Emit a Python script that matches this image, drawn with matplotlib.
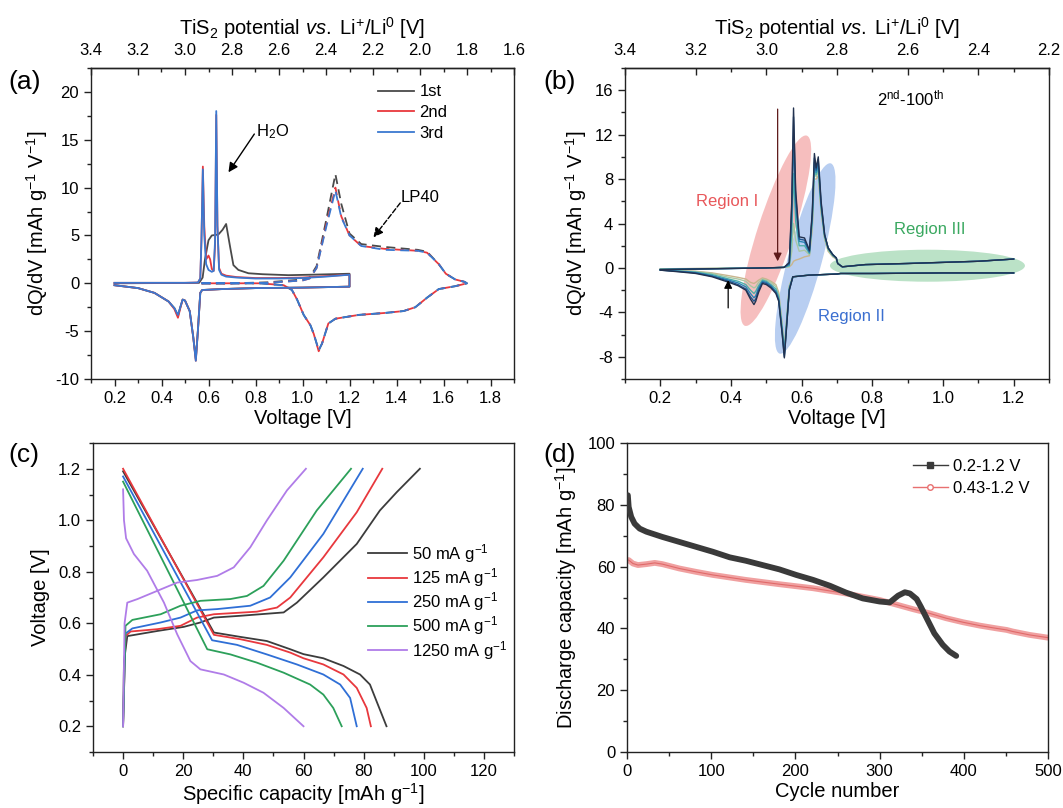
import numpy as np
import matplotlib
matplotlib.use("Agg")
import matplotlib.pyplot as plt
from matplotlib.ticker import MultipleLocator, FormatStrFormatter, FixedLocator
from matplotlib.patches import Ellipse
from matplotlib.transforms import ScaledTranslation
from matplotlib.lines import Line2D

plt.rcParams['font.family'] = ['Liberation Sans', 'DejaVu Sans']
plt.rcParams['mathtext.fontset'] = 'custom'
plt.rcParams['mathtext.rm'] = 'Liberation Sans'
plt.rcParams['mathtext.it'] = 'Liberation Sans:italic'
plt.rcParams['mathtext.bf'] = 'Liberation Sans:bold'
plt.rcParams['axes.linewidth'] = 1.0
plt.rcParams['axes.unicode_minus'] = False

# ---------------- (a) CV, 0.2-1.2 V window (solid) ----------------
va_c1 = [0.20, 0.35, 0.50, 0.56, 0.575, 0.585, 0.600, 0.614, 0.642, 0.660, 0.675, 0.692, 0.706, 0.727, 0.77, 0.83, 0.94, 1.04, 1.12, 1.20,
         1.20, 1.00, 0.80, 0.66, 0.573, 0.565, 0.555, 0.546, 0.535, 0.520, 0.500, 0.490, 0.480, 0.470, 0.455, 0.430, 0.370, 0.300, 0.200]
ia_c1 = [0.00, 0.02, 0.03, 0.05, 0.6, 2.5, 4.5, 5.0, 5.1, 5.6, 6.2, 3.8, 1.9, 1.4, 1.05, 0.95, 0.85, 0.90, 0.95, 1.00,
         -0.35, -0.45, -0.50, -0.60, -0.70, -1.0, -4.9, -7.9, -5.6, -2.9, -1.8, -1.7, -2.5, -3.4, -2.6, -1.9, -1.0, -0.5, -0.2]
va_c23 = [0.20, 0.35, 0.50, 0.555, 0.565, 0.570, 0.576, 0.582, 0.590, 0.600, 0.607, 0.614, 0.622, 0.628, 0.633, 0.638, 0.645, 0.655, 0.675, 0.72, 0.80, 0.90, 1.00, 1.10, 1.20,
          1.20, 1.00, 0.80, 0.66, 0.573, 0.565, 0.555, 0.546, 0.535, 0.520, 0.500, 0.490, 0.480, 0.470, 0.455, 0.430, 0.370, 0.300, 0.200]
ia_c2 = [0.05, 0.05, 0.05, 0.08, 0.5, 4.5, 12.2, 6.0, 2.5, 2.9, 2.5, 1.5, 1.3, 4.0, 17.6, 6.0, 1.6, 1.0, 0.8, 0.65, 0.55, 0.55, 0.60, 0.75, 0.90,
         -0.35, -0.45, -0.50, -0.60, -0.70, -1.0, -4.9, -8.1, -5.6, -2.9, -1.8, -1.7, -2.6, -3.6, -2.7, -1.9, -1.0, -0.5, -0.2]
ia_c3 = [0.05, 0.05, 0.05, 0.08, 0.5, 4.5, 11.9, 5.0, 2.0, 1.4, 1.3, 1.2, 1.3, 4.5, 18.0, 6.0, 1.4, 0.9, 0.7, 0.6, 0.5, 0.5, 0.55, 0.70, 0.90,
         -0.35, -0.45, -0.50, -0.60, -0.70, -1.0, -4.9, -8.1, -5.6, -2.9, -1.8, -1.7, -2.5, -3.3, -2.6, -1.9, -1.0, -0.5, -0.2]

# ---------------- (a) LP40 reference (dashed) ----------------
va_lp = [0.57, 0.70, 0.85, 1.00, 1.03, 1.06, 1.10, 1.14, 1.165, 1.20, 1.25, 1.35, 1.49, 1.53, 1.58, 1.61, 1.65, 1.69, 1.70,
         1.65, 1.58, 1.53, 1.48, 1.43, 1.35, 1.24, 1.14, 1.11, 1.083, 1.069, 1.048, 1.034, 1.005, 0.977, 0.955, 0.92, 0.82, 0.70, 0.57]
ia_lp1 = [0.00, 0.00, 0.10, 0.40, 0.60, 1.8, 6.5, 11.4, 8.3, 5.2, 4.1, 3.8, 3.5, 3.3, 2.0, 1.0, 0.4, 0.15, 0.0,
          -0.3, -0.6, -1.5, -2.5, -2.9, -3.1, -3.3, -3.7, -4.2, -6.3, -7.0, -5.3, -4.4, -3.3, -1.7, -0.7, -0.2, 0.0, 0.0, 0.0]
ia_lp2 = [0.00, 0.00, 0.05, 0.30, 0.50, 1.6, 6.0, 10.0, 7.0, 5.0, 3.9, 3.6, 3.4, 3.2, 2.0, 1.0, 0.4, 0.15, 0.0,
          -0.3, -0.6, -1.5, -2.5, -2.9, -3.1, -3.3, -3.7, -4.2, -6.3, -7.1, -5.3, -4.4, -3.3, -1.7, -0.7, -0.2, 0.0, 0.0, 0.0]
ia_lp3 = [0.00, 0.00, 0.05, 0.30, 0.50, 1.6, 5.8, 9.7, 6.9, 5.0, 3.9, 3.5, 3.4, 3.2, 2.0, 1.0, 0.4, 0.15, 0.0,
          -0.3, -0.6, -1.5, -2.5, -2.9, -3.1, -3.3, -3.7, -4.2, -6.3, -7.0, -5.3, -4.4, -3.3, -1.7, -0.7, -0.2, 0.0, 0.0, 0.0]
cycle_labels_a = ['1st', '2nd', '3rd']

# ---------------- (b) dQ/dV, cycles 2-100 ----------------
vb_up = [0.20, 0.30, 0.40, 0.50, 0.55, 0.565, 0.572, 0.577, 0.583, 0.593, 0.608, 0.622, 0.630, 0.636, 0.641, 0.647, 0.655, 0.665, 0.675, 0.688, 0.698, 0.702, 0.715, 0.78, 0.90, 1.00, 1.10, 1.20]
ib_up_002 = [-0.15, -0.10, -0.05, 0.00, 0.05, 0.5, 6.0, 14.4, 7.0, 2.8, 2.7, 1.6, 5.0, 10.3, 9.0, 10.0, 6.0, 3.0, 1.8, 1.2, 0.9, 0.4, 0.1, 0.3, 0.4, 0.5, 0.6, 0.8]
ib_up_010 = [-0.15, -0.10, -0.05, 0.00, 0.05, 0.4, 5.5, 13.6, 6.5, 2.6, 2.5, 1.5, 4.8, 9.9, 8.8, 9.7, 5.8, 3.0, 1.8, 1.2, 0.9, 0.4, 0.1, 0.3, 0.4, 0.5, 0.6, 0.8]
ib_up_025 = [-0.15, -0.10, -0.05, 0.00, 0.05, 0.3, 4.5, 11.8, 5.5, 2.4, 2.3, 1.4, 4.5, 9.5, 8.6, 9.3, 5.6, 2.9, 1.8, 1.2, 0.9, 0.4, 0.1, 0.3, 0.4, 0.5, 0.6, 0.8]
ib_up_050 = [-0.12, -0.08, -0.04, 0.00, 0.05, 0.2, 3.0, 8.5, 4.2, 2.0, 2.0, 1.3, 4.2, 9.0, 8.4, 9.0, 5.4, 2.8, 1.7, 1.1, 0.9, 0.4, 0.1, 0.3, 0.4, 0.5, 0.6, 0.8]
ib_up_075 = [-0.10, -0.06, -0.03, 0.00, 0.05, 0.15, 1.5, 4.0, 2.5, 1.5, 1.6, 1.2, 3.8, 8.6, 8.2, 8.7, 5.2, 2.7, 1.6, 1.1, 0.8, 0.4, 0.1, 0.3, 0.4, 0.5, 0.6, 0.8]
ib_up_100 = [-0.08, -0.05, -0.02, 0.00, 0.05, 0.10, 0.3, 0.6, 0.7, 0.8, 1.0, 1.1, 3.5, 8.0, 8.0, 8.3, 5.0, 2.6, 1.5, 1.0, 0.8, 0.4, 0.1, 0.3, 0.4, 0.5, 0.6, 0.8]
vb_dn = [1.20, 1.00, 0.80, 0.71, 0.70, 0.62, 0.575, 0.565, 0.558, 0.551, 0.545, 0.535, 0.527, 0.513, 0.500, 0.489, 0.478, 0.470, 0.465, 0.455, 0.442, 0.420, 0.394, 0.347, 0.300, 0.252, 0.200]
ib_dn_002 = [-0.45, -0.45, -0.50, -0.50, -0.55, -0.65, -0.8, -2.0, -5.0, -8.1, -6.0, -3.0, -2.3, -1.8, -1.5, -1.4, -2.2, -3.0, -3.3, -2.8, -2.0, -1.6, -1.3, -0.8, -0.5, -0.35, -0.20]
ib_dn_010 = [-0.45, -0.45, -0.50, -0.50, -0.55, -0.65, -0.8, -2.0, -5.0, -8.0, -5.9, -2.9, -2.2, -1.7, -1.4, -1.3, -2.0, -2.8, -3.0, -2.6, -1.9, -1.5, -1.2, -0.75, -0.45, -0.32, -0.20]
ib_dn_025 = [-0.45, -0.45, -0.50, -0.50, -0.55, -0.65, -0.8, -1.9, -4.8, -7.8, -5.7, -2.8, -2.1, -1.6, -1.3, -1.2, -1.8, -2.5, -2.7, -2.3, -1.7, -1.35, -1.1, -0.7, -0.42, -0.30, -0.18]
ib_dn_050 = [-0.45, -0.45, -0.50, -0.50, -0.55, -0.65, -0.8, -1.8, -4.6, -7.6, -5.5, -2.6, -1.9, -1.5, -1.2, -1.1, -1.6, -2.1, -2.3, -2.0, -1.5, -1.2, -1.0, -0.6, -0.38, -0.28, -0.17]
ib_dn_075 = [-0.45, -0.45, -0.50, -0.50, -0.55, -0.65, -0.8, -1.7, -4.5, -7.4, -5.3, -2.4, -1.7, -1.3, -1.1, -1.0, -1.3, -1.7, -1.8, -1.6, -1.2, -1.0, -0.85, -0.5, -0.33, -0.25, -0.15]
ib_dn_100 = [-0.45, -0.45, -0.50, -0.50, -0.55, -0.65, -0.8, -1.6, -4.4, -7.3, -5.1, -2.2, -1.5, -1.2, -1.0, -0.9, -1.1, -1.3, -1.4, -1.3, -1.0, -0.85, -0.70, -0.45, -0.30, -0.22, -0.14]

# ---------------- (c) galvanostatic profiles ----------------
rate_labels = ['50 mA g$^{-1}$', '125 mA g$^{-1}$', '250 mA g$^{-1}$', '500 mA g$^{-1}$', '1250 mA g$^{-1}$']
cap_dis_50 = [0, 30.2, 39.0, 47.8, 55.6, 60.0, 66.6, 73.3, 78.8, 82.1, 84.3, 87.6]
v_dis_50 = [1.19, 0.564, 0.547, 0.531, 0.499, 0.480, 0.464, 0.434, 0.401, 0.362, 0.297, 0.200]
cap_chg_50 = [0, 0.3, 1.4, 11.4, 20.2, 25.7, 30.2, 39.0, 53.4, 57.8, 66.6, 77.7, 85.4, 91.0, 98.7]
v_chg_50 = [0.20, 0.45, 0.55, 0.570, 0.586, 0.603, 0.622, 0.629, 0.642, 0.680, 0.778, 0.908, 1.038, 1.109, 1.20]
cap_dis_125 = [0, 30.2, 39.0, 47.8, 55.6, 60.0, 66.6, 73.3, 77.7, 81.0, 82.4]
v_dis_125 = [1.20, 0.555, 0.538, 0.516, 0.486, 0.464, 0.440, 0.401, 0.349, 0.271, 0.200]
cap_chg_125 = [0, 0.8, 2.5, 11.4, 19.1, 24.6, 30.2, 44.5, 51.2, 55.6, 66.6, 77.7, 86.2]
v_chg_125 = [0.20, 0.55, 0.568, 0.577, 0.590, 0.622, 0.635, 0.645, 0.661, 0.700, 0.856, 1.031, 1.20]
cap_dis_250 = [0, 29.6, 37.9, 47.8, 57.8, 66.6, 72.2, 75.5, 77.7]
v_dis_250 = [1.17, 0.534, 0.516, 0.479, 0.440, 0.401, 0.362, 0.310, 0.200]
cap_chg_250 = [0, 0.8, 3.1, 12.5, 19.1, 24.6, 31.3, 42.3, 48.9, 55.6, 66.6, 79.7]
v_chg_250 = [0.20, 0.56, 0.580, 0.603, 0.622, 0.650, 0.655, 0.668, 0.700, 0.778, 0.947, 1.20]
cap_dis_500 = [0, 28.0, 35.7, 44.5, 53.4, 62.2, 66.6, 69.9, 72.7]
v_dis_500 = [1.15, 0.499, 0.479, 0.447, 0.408, 0.362, 0.323, 0.271, 0.200]
cap_chg_500 = [0, 0.8, 3.1, 12.5, 19.1, 25.7, 35.7, 41.2, 46.7, 53.4, 64.4, 75.8]
v_chg_500 = [0.20, 0.59, 0.613, 0.635, 0.668, 0.687, 0.694, 0.706, 0.745, 0.843, 1.038, 1.20]
cap_dis_1250 = [0, 0.3, 1.0, 3.6, 8.0, 13.6, 18.0, 22.4, 25.7, 33.5, 40.1, 46.7, 53.4, 60.0]
v_dis_1250 = [1.12, 1.00, 0.93, 0.869, 0.804, 0.680, 0.557, 0.453, 0.421, 0.401, 0.369, 0.330, 0.271, 0.200]
cap_chg_1250 = [0, 0.5, 1.4, 4.8, 11.4, 18.0, 24.6, 31.3, 36.8, 42.3, 47.8, 54.5, 60.8]
v_chg_1250 = [0.20, 0.60, 0.680, 0.694, 0.726, 0.758, 0.768, 0.784, 0.817, 0.895, 0.999, 1.116, 1.20]

# ---------------- (d) cycling ----------------
cyc_wide = [1, 2, 5, 9, 15, 23, 42, 62, 82, 102, 122, 141, 161, 181, 201, 221, 241, 260, 280, 300, 312, 322, 330, 336, 344, 349, 357, 365, 375, 383, 391]
cap_wide = [83.1, 79.3, 76.1, 73.9, 72.3, 71.3, 69.6, 68.0, 66.4, 64.8, 63.0, 61.9, 60.5, 59.1, 57.3, 55.7, 53.8, 51.6, 49.7, 48.7, 48.4, 50.6, 51.7, 51.3, 49.5, 47.0, 42.7, 38.4, 34.7, 32.5, 31.1]
cyc_narrow = [2, 7, 13, 23, 33, 42, 62, 82, 102, 141, 181, 221, 260, 300, 340, 359, 379, 399, 419, 439, 451, 458, 478, 500]
cap_narrow = [62.1, 61.0, 60.5, 60.8, 61.2, 60.8, 59.4, 58.3, 57.3, 55.7, 54.3, 53.0, 51.3, 49.2, 46.2, 44.9, 43.3, 42.0, 40.9, 40.0, 39.5, 39.0, 37.9, 37.0]
window_labels = ['0.2-1.2 V', '0.43-1.2 V']

# top-axis tick values (TiS2 potential)
top_ticks_a = [3.4, 3.2, 3.0, 2.8, 2.6, 2.4, 2.2, 2.0, 1.8, 1.6]
top_ticks_b = [3.4, 3.2, 3.0, 2.8, 2.6, 2.4, 2.2]

# =====================================================================
W, H = 1063, 808
fig = plt.figure(figsize=(W / 100, H / 100), dpi=100)


def axpx(l, t, r, b):
    return fig.add_axes([l / W, 1 - b / H, (r - l) / W, (b - t) / H])


TICK = 12
LAB = 14.5
SPC = '#222222'


def style(ax):
    for s in ax.spines.values():
        s.set_color(SPC)
    ax.tick_params(which='both', direction='out', top=False, right=False,
                   labelsize=TICK, color=SPC, width=1.0)
    ax.tick_params(which='major', length=5)
    ax.tick_params(which='minor', length=3)


def tis2(v):
    return 3.5 - v


def top_axis(ax, ticks):
    sec = ax.secondary_xaxis('top', functions=(tis2, tis2))
    sec.xaxis.set_major_locator(FixedLocator(ticks))
    minors = [round(t - 0.1, 1) for t in ticks[1:]]
    sec.xaxis.set_minor_locator(FixedLocator(minors))
    sec.xaxis.set_major_formatter(FormatStrFormatter('%.1f'))
    sec.tick_params(which='both', direction='in', labelsize=TICK, color=SPC, width=1.0, pad=7)
    sec.tick_params(which='major', length=5)
    sec.tick_params(which='minor', length=3)
    sec.spines['top'].set_color(SPC)
    sec.set_xlabel('TiS$_2$ potential $\\it{vs.}$ Li$^{+}$/Li$^{0}$ [V]', fontsize=LAB, labelpad=6)
    return sec


ax_a = axpx(91, 68, 514, 379)
ax_b = axpx(625, 68, 1049, 379)
ax_c = axpx(93, 443, 514, 752)
ax_d = axpx(627, 443, 1048, 752)

# ---------------- panel (a) ----------------
col_a = ['#4a4a4a', '#e8383d', '#3a78d0']
style(ax_a)
ax_a.set_xlim(0.1, 1.9)
ax_a.set_ylim(-10, 22.5)
for i_lp, c in zip([ia_lp1, ia_lp2, ia_lp3], col_a):
    ax_a.plot(va_lp, i_lp, color=c, lw=1.3, dashes=(5, 3), zorder=2)
for i_s, va, c, lab in zip([ia_c1, ia_c2, ia_c3], [va_c1, va_c23, va_c23], col_a, cycle_labels_a):
    ax_a.plot(va, i_s, color=c, lw=1.3, label=lab, zorder=3)
ax_a.xaxis.set_major_locator(MultipleLocator(0.2))
ax_a.xaxis.set_minor_locator(MultipleLocator(0.1))
ax_a.xaxis.set_major_formatter(FormatStrFormatter('%.1f'))
ax_a.yaxis.set_major_locator(MultipleLocator(5))
ax_a.yaxis.set_minor_locator(MultipleLocator(2.5))
ax_a.set_xlabel('Voltage [V]', fontsize=LAB, labelpad=2)
ax_a.set_ylabel('dQ/dV [mAh g$^{-1}$ V$^{-1}$]', fontsize=LAB, labelpad=4)
top_axis(ax_a, top_ticks_a)
ax_a.legend(loc='upper left', bbox_to_anchor=(0.678, 0.947), frameon=False, fontsize=12,
            handlelength=2.2, handletextpad=0.3, labelspacing=0.34, borderpad=0, borderaxespad=0)
ax_a.annotate('', xy=(0.685, 11.6), xytext=(0.795, 15.6),
              arrowprops=dict(arrowstyle='-|>', color='black', lw=1.0, mutation_scale=14, shrinkA=0, shrinkB=0))
ax_a.text(0.80, 15.9, 'H$_2$O', fontsize=12, ha='left', va='center')
ax_a.annotate('', xy=(1.302, 4.8), xytext=(1.416, 8.4),
              arrowprops=dict(arrowstyle='-|>', color='black', lw=1.0, ls='--', mutation_scale=14, shrinkA=0, shrinkB=0))
ax_a.text(1.416, 9.0, 'LP40', fontsize=12, ha='left', va='center')

# ---------------- panel (b) ----------------
style(ax_b)
ax_b.set_xlim(0.1, 1.3)
ax_b.set_ylim(-10, 18)


def ellipse(ax, cx, cy, w_px, h_px, ang, color, alpha):
    tr = fig.dpi_scale_trans + ScaledTranslation(cx, cy, ax.transData)
    e = Ellipse((0, 0), w_px / 100, h_px / 100, angle=ang, transform=tr,
                facecolor=color, edgecolor='none', alpha=alpha, zorder=1)
    ax.add_artist(e)


ellipse(ax_b, 0.527, 3.35, 200, 36, 72, '#f08a8a', 0.55)
ellipse(ax_b, 0.610, 0.85, 197, 34, 75, '#7ea6e6', 0.55)
ellipse(ax_b, 0.956, 0.20, 195, 32, 0, '#8fcfa2', 0.6)

ups = [ib_up_100, ib_up_075, ib_up_050, ib_up_025, ib_up_010, ib_up_002]
dns = [ib_dn_100, ib_dn_075, ib_dn_050, ib_dn_025, ib_dn_010, ib_dn_002]
col_b = ['#c9b58e', '#a9c7a4', '#4fb0a8', '#2a86b6', '#1f5591', '#22324f']
for u, d, c in zip(ups, dns, col_b):
    ax_b.plot(vb_up, u, color=c, lw=1.0, zorder=3)
    ax_b.plot(vb_dn, d, color=c, lw=1.0, zorder=3)
ax_b.xaxis.set_major_locator(MultipleLocator(0.2))
ax_b.xaxis.set_minor_locator(MultipleLocator(0.1))
ax_b.xaxis.set_major_formatter(FormatStrFormatter('%.1f'))
ax_b.yaxis.set_major_locator(MultipleLocator(4))
ax_b.yaxis.set_minor_locator(MultipleLocator(2))
ax_b.set_xlabel('Voltage [V]', fontsize=LAB, labelpad=2)
ax_b.set_ylabel('dQ/dV [mAh g$^{-1}$ V$^{-1}$]', fontsize=LAB, labelpad=4)
top_axis(ax_b, top_ticks_b)
ax_b.annotate('', xy=(0.532, 0.6), xytext=(0.532, 14.3),
              arrowprops=dict(arrowstyle='-|>', color='#5e1a1a', lw=0.9, mutation_scale=12, shrinkA=0, shrinkB=0), zorder=4)
ax_b.annotate('', xy=(0.392, -1.1), xytext=(0.392, -3.6),
              arrowprops=dict(arrowstyle='-|>', color='black', lw=0.9, mutation_scale=12, shrinkA=0, shrinkB=0), zorder=4)
ax_b.text(0.388, 6.0, 'Region I', color='#e8575a', fontsize=12, ha='center', va='center')
ax_b.text(0.740, -4.4, 'Region II', color='#3b6fd0', fontsize=12, ha='center', va='center')
ax_b.text(0.963, 3.5, 'Region III', color='#3aa860', fontsize=12, ha='center', va='center')
ax_b.text(0.907, 15.3, '2$^{\\rm nd}$-100$^{\\rm th}$', fontsize=12, ha='center', va='center')

# ---------------- panel (c) ----------------
style(ax_c)
ax_c.set_xlim(-10, 130)
ax_c.set_ylim(0.1, 1.3)
col_c = ['#3c3c3c', '#e8383d', '#2f6fd6', '#2ca05a', '#b07ce8']
dis = [(cap_dis_50, v_dis_50), (cap_dis_125, v_dis_125), (cap_dis_250, v_dis_250), (cap_dis_500, v_dis_500), (cap_dis_1250, v_dis_1250)]
chg = [(cap_chg_50, v_chg_50), (cap_chg_125, v_chg_125), (cap_chg_250, v_chg_250), (cap_chg_500, v_chg_500), (cap_chg_1250, v_chg_1250)]
for (cd, vd), (cc, vc), col, lab in zip(dis, chg, col_c, rate_labels):
    ax_c.plot(cd, vd, color=col, lw=1.3, label=lab)
    ax_c.plot(cc, vc, color=col, lw=1.3)
ax_c.xaxis.set_major_locator(MultipleLocator(20))
ax_c.xaxis.set_minor_locator(MultipleLocator(10))
ax_c.yaxis.set_major_locator(MultipleLocator(0.2))
ax_c.yaxis.set_minor_locator(MultipleLocator(0.1))
ax_c.yaxis.set_major_formatter(FormatStrFormatter('%.1f'))
ax_c.set_xlabel('Specific capacity [mAh g$^{-1}$]', fontsize=LAB, labelpad=2)
ax_c.set_ylabel('Voltage [V]', fontsize=LAB, labelpad=6)
ax_c.legend(loc='upper left', bbox_to_anchor=(0.653, 0.680), frameon=False, fontsize=12,
            handlelength=2.35, handletextpad=0.3, labelspacing=0.08, borderpad=0, borderaxespad=0)

# ---------------- panel (d) ----------------
style(ax_d)
ax_d.set_xlim(0, 500)
ax_d.set_ylim(0, 100)
ax_d.plot(cyc_wide, cap_wide, color='#3a3a3a', lw=4.2, solid_capstyle='round', solid_joinstyle='round', zorder=3)
ax_d.plot(cyc_narrow, cap_narrow, color='#f0a0a0', lw=4.2, solid_capstyle='round', solid_joinstyle='round', zorder=2)
ax_d.plot(cyc_narrow, cap_narrow, color='#e06a6a', lw=0.8, zorder=2)
ax_d.xaxis.set_major_locator(MultipleLocator(100))
ax_d.xaxis.set_minor_locator(MultipleLocator(50))
ax_d.yaxis.set_major_locator(MultipleLocator(20))
ax_d.yaxis.set_minor_locator(MultipleLocator(10))
ax_d.set_xlabel('Cycle number', fontsize=LAB, labelpad=2)
ax_d.set_ylabel('Discharge capacity [mAh g$^{-1}$]', fontsize=LAB, labelpad=6)
h_d = [Line2D([], [], color='#3a3a3a', lw=1.0, marker='s', markersize=4),
       Line2D([], [], color='#e87070', lw=1.0, marker='o', markersize=4, markerfacecolor='white')]
ax_d.legend(h_d, window_labels, loc='upper left', bbox_to_anchor=(0.679, 0.948), frameon=False, fontsize=12,
            handlelength=2.1, handletextpad=0.3, labelspacing=0.4, borderpad=0, borderaxespad=0)

# panel letters
for lab, x, y in [('(a)', 8, 82), ('(b)', 543, 82), ('(c)', 8, 455), ('(d)', 543, 455)]:
    fig.text(x / W, 1 - y / H, lab, fontsize=19, ha='left', va='center')

fig.savefig('out.png', dpi=100)
